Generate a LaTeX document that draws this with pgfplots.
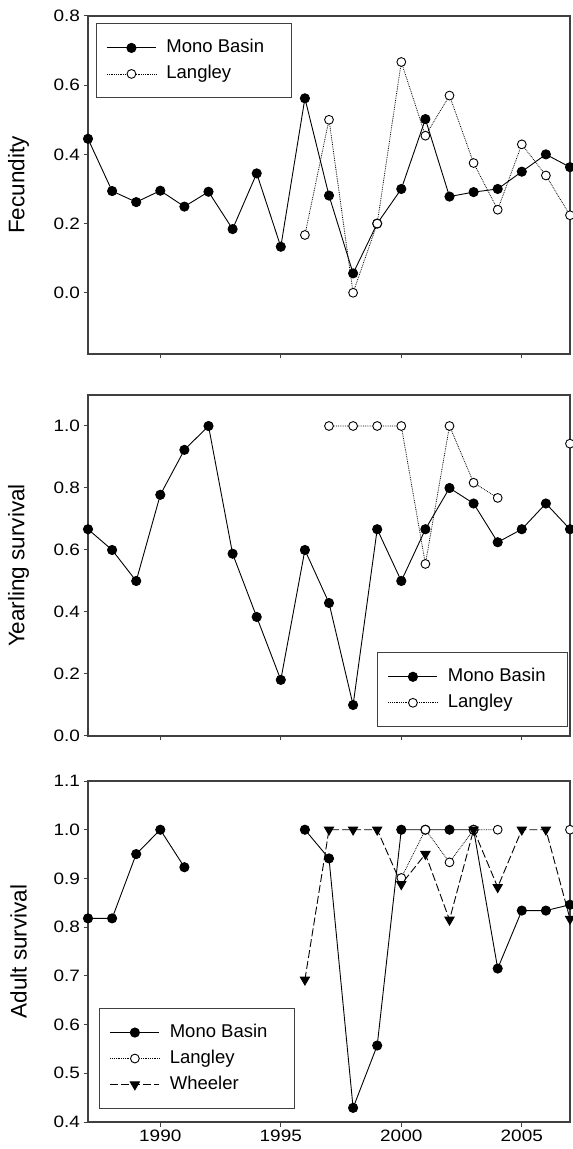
\documentclass[border=0pt]{standalone}
\usepackage{fontspec}
\setmainfont{Liberation Sans}
\newfontfamily\tickfont{Liberation Sans}[FakeStretch=1.15]
\usepackage{pgfplots}
\pgfplotsset{compat=1.18}
\pgfplotsset{
  myax/.style={
    scale only axis, width=482pt, xmin=1987, xmax=2007,
    axis line style={draw=black!75, line width=1.2pt},
    tick style={draw=black!75, line width=1pt},
    tick align=outside, tick pos=left, major tick length=4.5pt,
    xtick={1990,1995,2000,2005},
    /pgf/number format/assume math mode=true,
    ticklabel style={font=\tickfont\fontsize{16.5}{16.5}\selectfont},
    yticklabel={\pgfmathprintnumber[fixed,fixed zerofill,precision=1]{\tick}},
    ylabel style={font=\fontsize{22.5}{22.5}\selectfont, at={(axis description cs:-0.144,0.5)}, anchor=center, rotate=0},
    unbounded coords=jump,
    legend cell align=left,
    legend style={draw=black!75, line width=1pt, font=\fontsize{18.5}{20}\selectfont,
      inner xsep=10pt, inner ysep=13.5pt, row sep=5pt, column sep=8pt,
      nodes={inner sep=2pt, text height=13pt, text depth=4pt, font=\fontsize{18.5}{20}\selectfont}},
    legend image code/.code={\draw[mark repeat=2,mark phase=2,##1] plot coordinates {(0pt,0pt) (24.5pt,0pt) (49pt,0pt)};},
  },
  mono/.style={black, line width=0.9pt, solid, mark=*, mark size=4.6pt, mark options={solid, fill=black}},
  lang/.style={black, line width=0.8pt, densely dotted, mark=*, mark size=4.4pt, mark options={solid, draw=black, fill=white, line width=0.9pt}},
  wheel/.style={black, line width=0.9pt, dash pattern=on 8pt off 3pt, mark=triangle*, mark size=5.3pt, mark options={solid, rotate=180, fill=black}},
}
\begin{document}
\begin{tikzpicture}
\useasboundingbox (0,0) rectangle (573pt,1149pt);
% ---------- Fecundity ----------
\begin{axis}[myax, at={(88pt,795pt)}, anchor=south west, height=338pt,
  ymin=-0.177, ymax=0.8, ytick={0,0.2,0.4,0.6,0.8}, xticklabels={},
  ylabel={Fecundity},
  legend style={at={(0.0166,0.978)}, anchor=north west}]
\addplot[mono] coordinates {
(1987,0.445) (1988,0.294) (1989,0.262) (1990,0.295) (1991,0.249) (1992,0.292)
(1993,0.184) (1994,0.345) (1995,0.133) (1996,0.562) (1997,0.281) (1998,0.056)
(1999,0.200) (2000,0.300) (2001,0.502) (2002,0.278) (2003,0.291) (2004,0.300)
(2005,0.350) (2006,0.400) (2007,0.363)};
\addlegendentry{Mono Basin\hspace*{15pt}}
\addplot[lang] coordinates {
(1996,0.167) (1997,0.500) (1998,0.000) (1999,0.200) (2000,0.667) (2001,0.454)
(2002,0.570) (2003,0.375) (2004,0.240) (2005,0.429) (2006,0.339) (2007,0.224)};
\addlegendentry{Langley}
\end{axis}
% ---------- Yearling survival ----------
\begin{axis}[myax, at={(88pt,413pt)}, anchor=south west, height=341pt,
  ymin=0, ymax=1.1, ytick={0,0.2,0.4,0.6,0.8,1.0}, xticklabels={},
  ylabel={Yearling survival},
  legend style={at={(0.996,0.0255)}, anchor=south east}]
\addplot[mono] coordinates {
(1987,0.667) (1988,0.600) (1989,0.500) (1990,0.778) (1991,0.923) (1992,1.000)
(1993,0.588) (1994,0.384) (1995,0.181) (1996,0.600) (1997,0.429) (1998,0.100)
(1999,0.667) (2000,0.500) (2001,0.667) (2002,0.800) (2003,0.750) (2004,0.625)
(2005,0.667) (2006,0.750) (2007,0.667)};
\addlegendentry{Mono Basin\hspace*{10pt}}
\addplot[lang] coordinates {
(1997,1.000) (1998,1.000) (1999,1.000) (2000,1.000) (2001,0.555) (2002,1.000)
(2003,0.817) (2004,0.768) (2005,nan) (2007,0.943)};
\addlegendentry{Langley}
\end{axis}
% ---------- Adult survival ----------
\begin{axis}[myax, at={(88pt,27pt)}, anchor=south west, height=341pt,
  ymin=0.4, ymax=1.1, ytick={0.4,0.5,0.6,0.7,0.8,0.9,1.0,1.1},
  xticklabels={1990,1995,2000,2005},
  ylabel={Adult survival},
  legend style={at={(0.0237,0.038)}, anchor=south west}]
\addplot[mono] coordinates {
(1987,0.818) (1988,0.818) (1989,0.950) (1990,1.000) (1991,0.923) (1992,nan)
(1996,1.000) (1997,0.941) (1998,0.429) (1999,0.557) (2000,1.000) (2001,1.000)
(2002,1.000) (2003,1.000) (2004,0.715) (2005,0.834) (2006,0.834) (2007,0.846)};
\addlegendentry{Mono Basin\hspace*{15pt}}
\addplot[lang] coordinates {
(2000,0.901) (2001,1.000) (2002,0.933) (2003,1.000) (2004,1.000) (2005,nan)
(2007,1.000)};
\addlegendentry{Langley}
\addplot[wheel] coordinates {
(1996,0.692) (1997,1.000) (1998,1.000) (1999,1.000) (2000,0.888) (2001,0.950)
(2002,0.815) (2003,1.000) (2004,0.882) (2005,1.000) (2006,1.000) (2007,0.817)};
\addlegendentry{Wheeler}
\end{axis}
\end{tikzpicture}
\end{document}
